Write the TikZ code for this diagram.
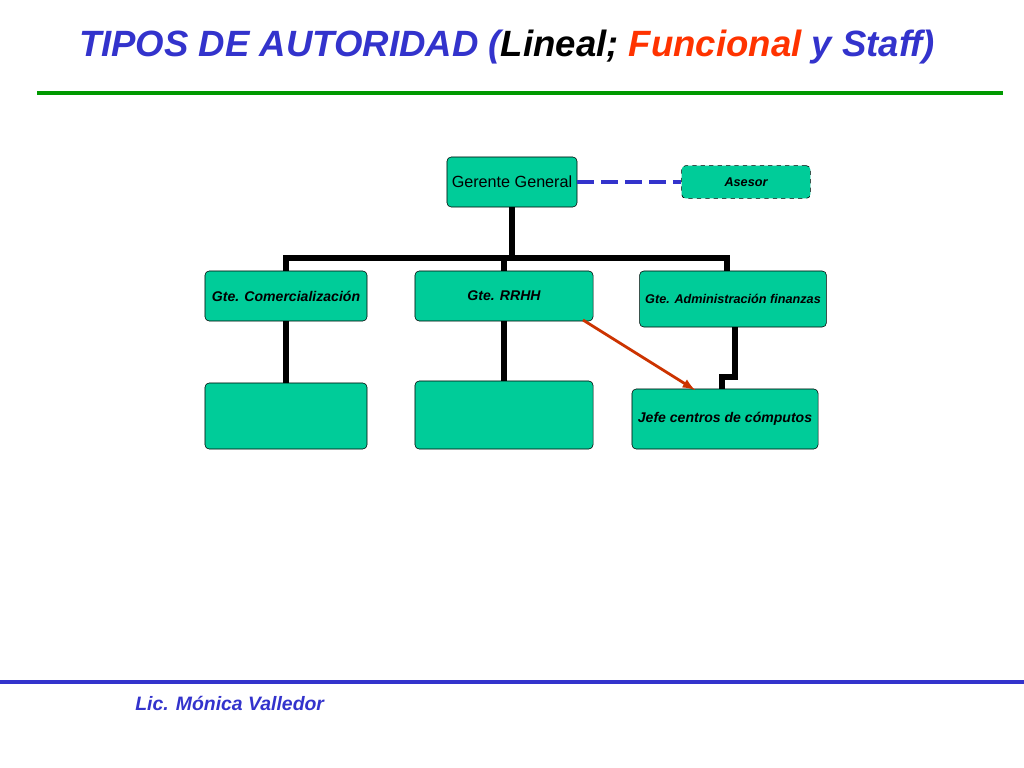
\documentclass[tikz,border=0pt]{standalone}
\usepackage{fontspec}
\setmainfont{Liberation Sans}
\usepackage{tikz}
\definecolor{boxgreen}{RGB}{0,204,153}
\definecolor{titleblue}{RGB}{51,51,204}
\definecolor{titlered}{RGB}{255,51,0}
\definecolor{linegreen}{RGB}{0,153,0}
\definecolor{arrowred}{RGB}{204,51,0}
\begin{document}
\begin{tikzpicture}[x=0.025cm,y=-0.025cm]
\tikzstyle{every node}+=[inner sep=0pt]
\tikzstyle{orgbox}=[draw=black,fill=boxgreen,rounded corners=3pt,font=\bfseries\itshape\fontsize{10}{12}\selectfont]
\tikzstyle{linea}=[black,line width=4pt]
\useasboundingbox (0,0) rectangle (1024,768);
\node [font=\bfseries\itshape\fontsize{26}{30}\selectfont,text=titleblue] (title) at (507,47)
 {TIPOS DE AUTORIDAD (\textcolor{black}{Lineal;} \textcolor{titlered}{Funcional} y Staff)};
\draw [linegreen,line width=3pt] (37,93) -- (1003,93);
\draw [titleblue,line width=3.5pt] (0,682) -- (1024,682);
\node [font=\bfseries\itshape\fontsize{13.8}{16}\selectfont,text=titleblue,anchor=west] (autor) at (135,703) {Lic. Mónica Valledor};
\node [orgbox,minimum width=3.25cm,minimum height=1.25cm,font=\fontsize{11.5}{13}\selectfont] (gg) at (512,182) {Gerente General};
\node [orgbox,dashed,minimum width=3.22cm,minimum height=0.82cm,font=\bfseries\itshape\fontsize{9}{10}\selectfont] (asesor) at (746,182) {Asesor};
\node [orgbox,minimum width=4.05cm,minimum height=1.25cm] (com) at (286,296) {Gte. Comercialización};
\node [orgbox,minimum width=4.45cm,minimum height=1.25cm] (rrhh) at (504,296) {Gte. RRHH};
\node [orgbox,minimum width=4.67cm,minimum height=1.4cm,font=\bfseries\itshape\fontsize{9}{10}\selectfont] (adm) at (733,299) {Gte. Administración finanzas};
\node [orgbox,minimum width=4.05cm,minimum height=1.65cm] (b1) at (286,416) {};
\node [orgbox,minimum width=4.45cm,minimum height=1.7cm] (b2) at (504,415) {};
\node [orgbox,minimum width=4.65cm,minimum height=1.5cm] (jefe) at (725,419) {Jefe centros de cómputos};
\coordinate (bus) at (512,258);
\draw [linea] (gg.south) -- (bus);
\draw [linea] (com.north) |- (bus) -| (727,271);
\draw [linea] (rrhh.north) -- (504,258);
\draw [linea] (com.south) -- (b1.north);
\draw [linea] (rrhh.south) -- (b2.north);
\draw [linea] (735,327) -- (735,377) -- (722,377) -- (722,389);
\draw [titleblue,line width=3.5pt,dash pattern=on 12pt off 5pt] (gg.east) -- (asesor.west);
\draw [arrowred,line width=2pt,-latex] (583,320) -- (695,390);
\end{tikzpicture}
\end{document}
